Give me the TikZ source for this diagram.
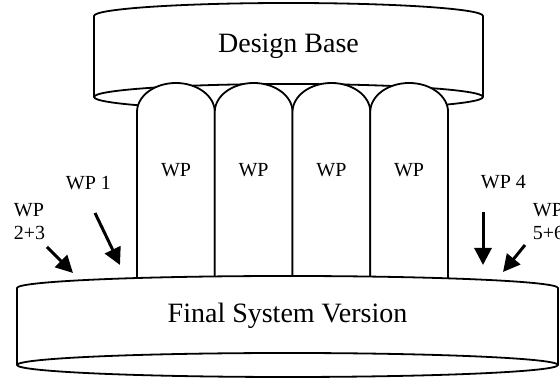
\documentclass[tikz,border=0pt]{standalone}
\usepackage{fontspec}
\setmainfont{Liberation Serif}
\usetikzlibrary{arrows.meta}

\begin{document}
\begin{tikzpicture}[x=1pt,y=1pt,line width=1.8pt,inner sep=0pt,
	body/.style={draw,fill=white,line join=round},
	big/.style={font=\fontsize{28}{30}\selectfont},
	small/.style={font=\fontsize{20}{23}\selectfont,align=left},
	push/.style={line width=3pt,-{Triangle[length=17pt,width=17pt]}}]
	\useasboundingbox (0,0) rectangle (560,379);
	\draw[body] (94,363) arc[start angle=180,end angle=0,x radius=194.5,y radius=13]
	-- (483,282) arc[start angle=0,end angle=-180,x radius=194.5,y radius=13] -- cycle;
	\draw (94,282) arc[start angle=180,end angle=0,x radius=194.5,y radius=13];
	\draw[body] (137,95) -- (137,267) arc[start angle=180,end angle=0,x radius=38.9,y radius=29] -- (214.75,95);
	\draw[body] (214.75,95) -- (214.75,267) arc[start angle=180,end angle=0,x radius=38.9,y radius=29] -- (292.5,95);
	\draw[body] (292.5,95) -- (292.5,267) arc[start angle=180,end angle=0,x radius=38.9,y radius=29] -- (370.25,95);
	\draw[body] (370.25,95) -- (370.25,267) arc[start angle=180,end angle=0,x radius=38.9,y radius=29] -- (448,95);
	\draw[body] (17,91) arc[start angle=180,end angle=0,x radius=270.5,y radius=12]
	-- (558,14) arc[start angle=0,end angle=-180,x radius=270.5,y radius=12] -- cycle;
	\draw (17,14) arc[start angle=180,end angle=0,x radius=270.5,y radius=12];
	\node[big,anchor=base] (base) at (288.5,326) {Design Base};
	\node[big,anchor=base] (final) at (287.5,56) {Final System Version};
	\node[small,anchor=base] (wp_a) at (176,202) {WP};
	\node[small,anchor=base] (wp_b) at (253.6,202) {WP};
	\node[small,anchor=base] (wp_c) at (331.4,202) {WP};
	\node[small,anchor=base] (wp_d) at (409.1,202) {WP};
	\node[small,anchor=base west] (l_1) at (65,189) {WP 1};
	\node[small,anchor=base west] (l_4) at (480,190) {WP 4};
	\node[small,anchor=base west] (l_23) at (13,139) {WP\\2+3};
	\node[small,anchor=base west] (l_56) at (532,139) {WP\\5+6};
	\coordinate (t_1) at (95,166);
	\coordinate (h_1) at (120,114);
	\coordinate (t_23) at (47,132);
	\coordinate (h_23) at (73,106);
	\coordinate (t_4) at (483,167);
	\coordinate (h_4) at (483,114);
	\coordinate (t_56) at (525,134);
	\coordinate (h_56) at (503,107);
	\draw[push] (t_1) -- (h_1);
	\draw[push] (t_23) -- (h_23);
	\draw[push] (t_4) -- (h_4);
	\draw[push] (t_56) -- (h_56);
\end{tikzpicture}
\end{document}
